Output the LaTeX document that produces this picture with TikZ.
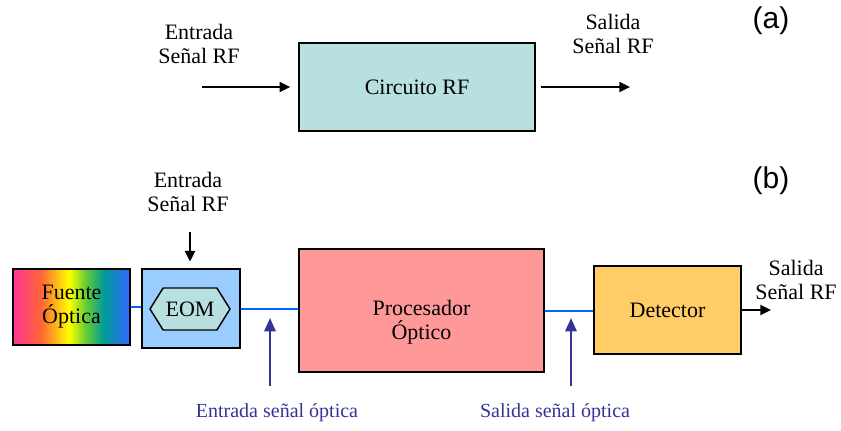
\documentclass[tikz,border=0pt]{standalone}
\usepackage{fontspec}
\setmainfont{Liberation Serif}
\newfontfamily\labelfont{Liberation Sans}
\usetikzlibrary{arrows.meta,shapes.symbols}

\definecolor{rfcyan}{HTML}{B8E0E0}
\definecolor{eomblue}{HTML}{99CCFF}
\definecolor{procpink}{HTML}{FF9999}
\definecolor{detorange}{HTML}{FFCC66}
\definecolor{fibreblue}{HTML}{0066FF}
\definecolor{optviolet}{HTML}{333399}
\definecolor{rbpink}{HTML}{FF3399}
\definecolor{rborange}{HTML}{FF6633}
\definecolor{rbyellow}{HTML}{FFFF00}
\definecolor{rbgreen}{HTML}{66CC33}
\definecolor{rbteal}{HTML}{009999}
\definecolor{rbblue}{HTML}{3366FF}

\pgfdeclarehorizontalshading{rainbow}{100bp}{color(0bp)=(rbpink); color(25bp)=(rbpink);
  color(37bp)=(rborange); color(49bp)=(rbyellow); color(56bp)=(rbgreen);
  color(64bp)=(rbteal); color(75bp)=(rbblue); color(100bp)=(rbblue)}

\tikzset{
  block/.style={draw, line width=1.1pt, align=center, inner sep=0pt},
  rfarrow/.style={line width=1.5pt, -{Triangle[length=8pt,width=7.5pt]}},
  fibre/.style={fibreblue, line width=1.5pt},
  optarrow/.style={optviolet, line width=1.5pt, -{Triangle[length=10pt,width=8.5pt]}},
  txt/.style={align=center, font=\fontsize{16.5}{18}\selectfont},
  optxt/.style={optviolet, font=\fontsize{15}{17}\selectfont},
}

\begin{document}
\begin{tikzpicture}[x=0.75pt, y=-0.75pt]
  \useasboundingbox (0,0) rectangle (841,430);

  % (a) RF circuit
  \node[block, fill=rfcyan, minimum width=177pt, minimum height=66pt, txt] (circ) at (417,87) {Circuito RF};
  \coordinate (inA) at (202,87);
  \coordinate (outA) at (630,87);
  \draw[rfarrow, shorten >=6pt] (inA) -- (circ.west);
  \draw[rfarrow, shorten <=3.75pt] (circ.east) -- (outA);
  \node[txt] (inAtxt) at (199,44) {Entrada\\Señal RF};
  \node[txt] (outAtxt) at (613,34) {Salida\\Señal RF};
  \node[font=\labelfont\fontsize{22.5}{24}\selectfont] (labA) at (771,21) {(a)};

  % (b) photonic link
  \node[block, shading=rainbow, minimum width=87.75pt, minimum height=57pt, txt] (fuente) at (71.5,307) {Fuente\\Óptica};
  \node[block, fill=eomblue, minimum width=73.5pt, minimum height=59.25pt] (eombox) at (191,308.5) {};
  \node[draw, line width=1.1pt, fill=rfcyan, signal, signal to=east and west, signal from=nowhere,
        signal pointer angle=116, minimum width=60pt, minimum height=31.5pt, inner sep=0pt, txt] (eom) at (190,309) {EOM};
  \node[block, fill=procpink, minimum width=183.75pt, minimum height=92.25pt] (proc) at (421.5,310.5) {};
  \node[txt] (proctxt) at (421.5,322) {Procesador\\Óptico};
  \node[block, fill=detorange, minimum width=110.25pt, minimum height=66pt, txt] (det) at (667.5,310) {Detector};

  % fibres
  \draw[fibre] (fuente.east) -- (fuente.east -| eombox.west);
  \draw[fibre] (eombox.east) -- (eombox.east -| proc.west);
  \draw[fibre] (proc.east) -- (proc.east -| det.west);

  % RF in and out
  \coordinate (inB) at (190,232);
  \coordinate (outB) at (771,310);
  \draw[rfarrow, shorten >=5pt] (inB) -- (inB |- eombox.north);
  \draw[rfarrow] (det.east) -- (outB);
  \node[txt] (inBtxt) at (188,192) {Entrada\\Señal RF};
  \node[txt] (outBtxt) at (796,280) {Salida\\Señal RF};
  \node[font=\labelfont\fontsize{22.5}{24}\selectfont] (labB) at (771,181) {(b)};

  % optical signal markers
  \coordinate (optin) at (270,386);
  \coordinate (optinTip) at (270,318);
  \coordinate (optout) at (571,386);
  \coordinate (optoutTip) at (571,318);
  \draw[optarrow] (optin) -- (optinTip);
  \draw[optarrow] (optout) -- (optoutTip);
  \node[optxt] (optintxt) at (277,413) {Entrada señal óptica};
  \node[optxt] (optouttxt) at (555,413) {Salida señal óptica};
\end{tikzpicture}
\end{document}
